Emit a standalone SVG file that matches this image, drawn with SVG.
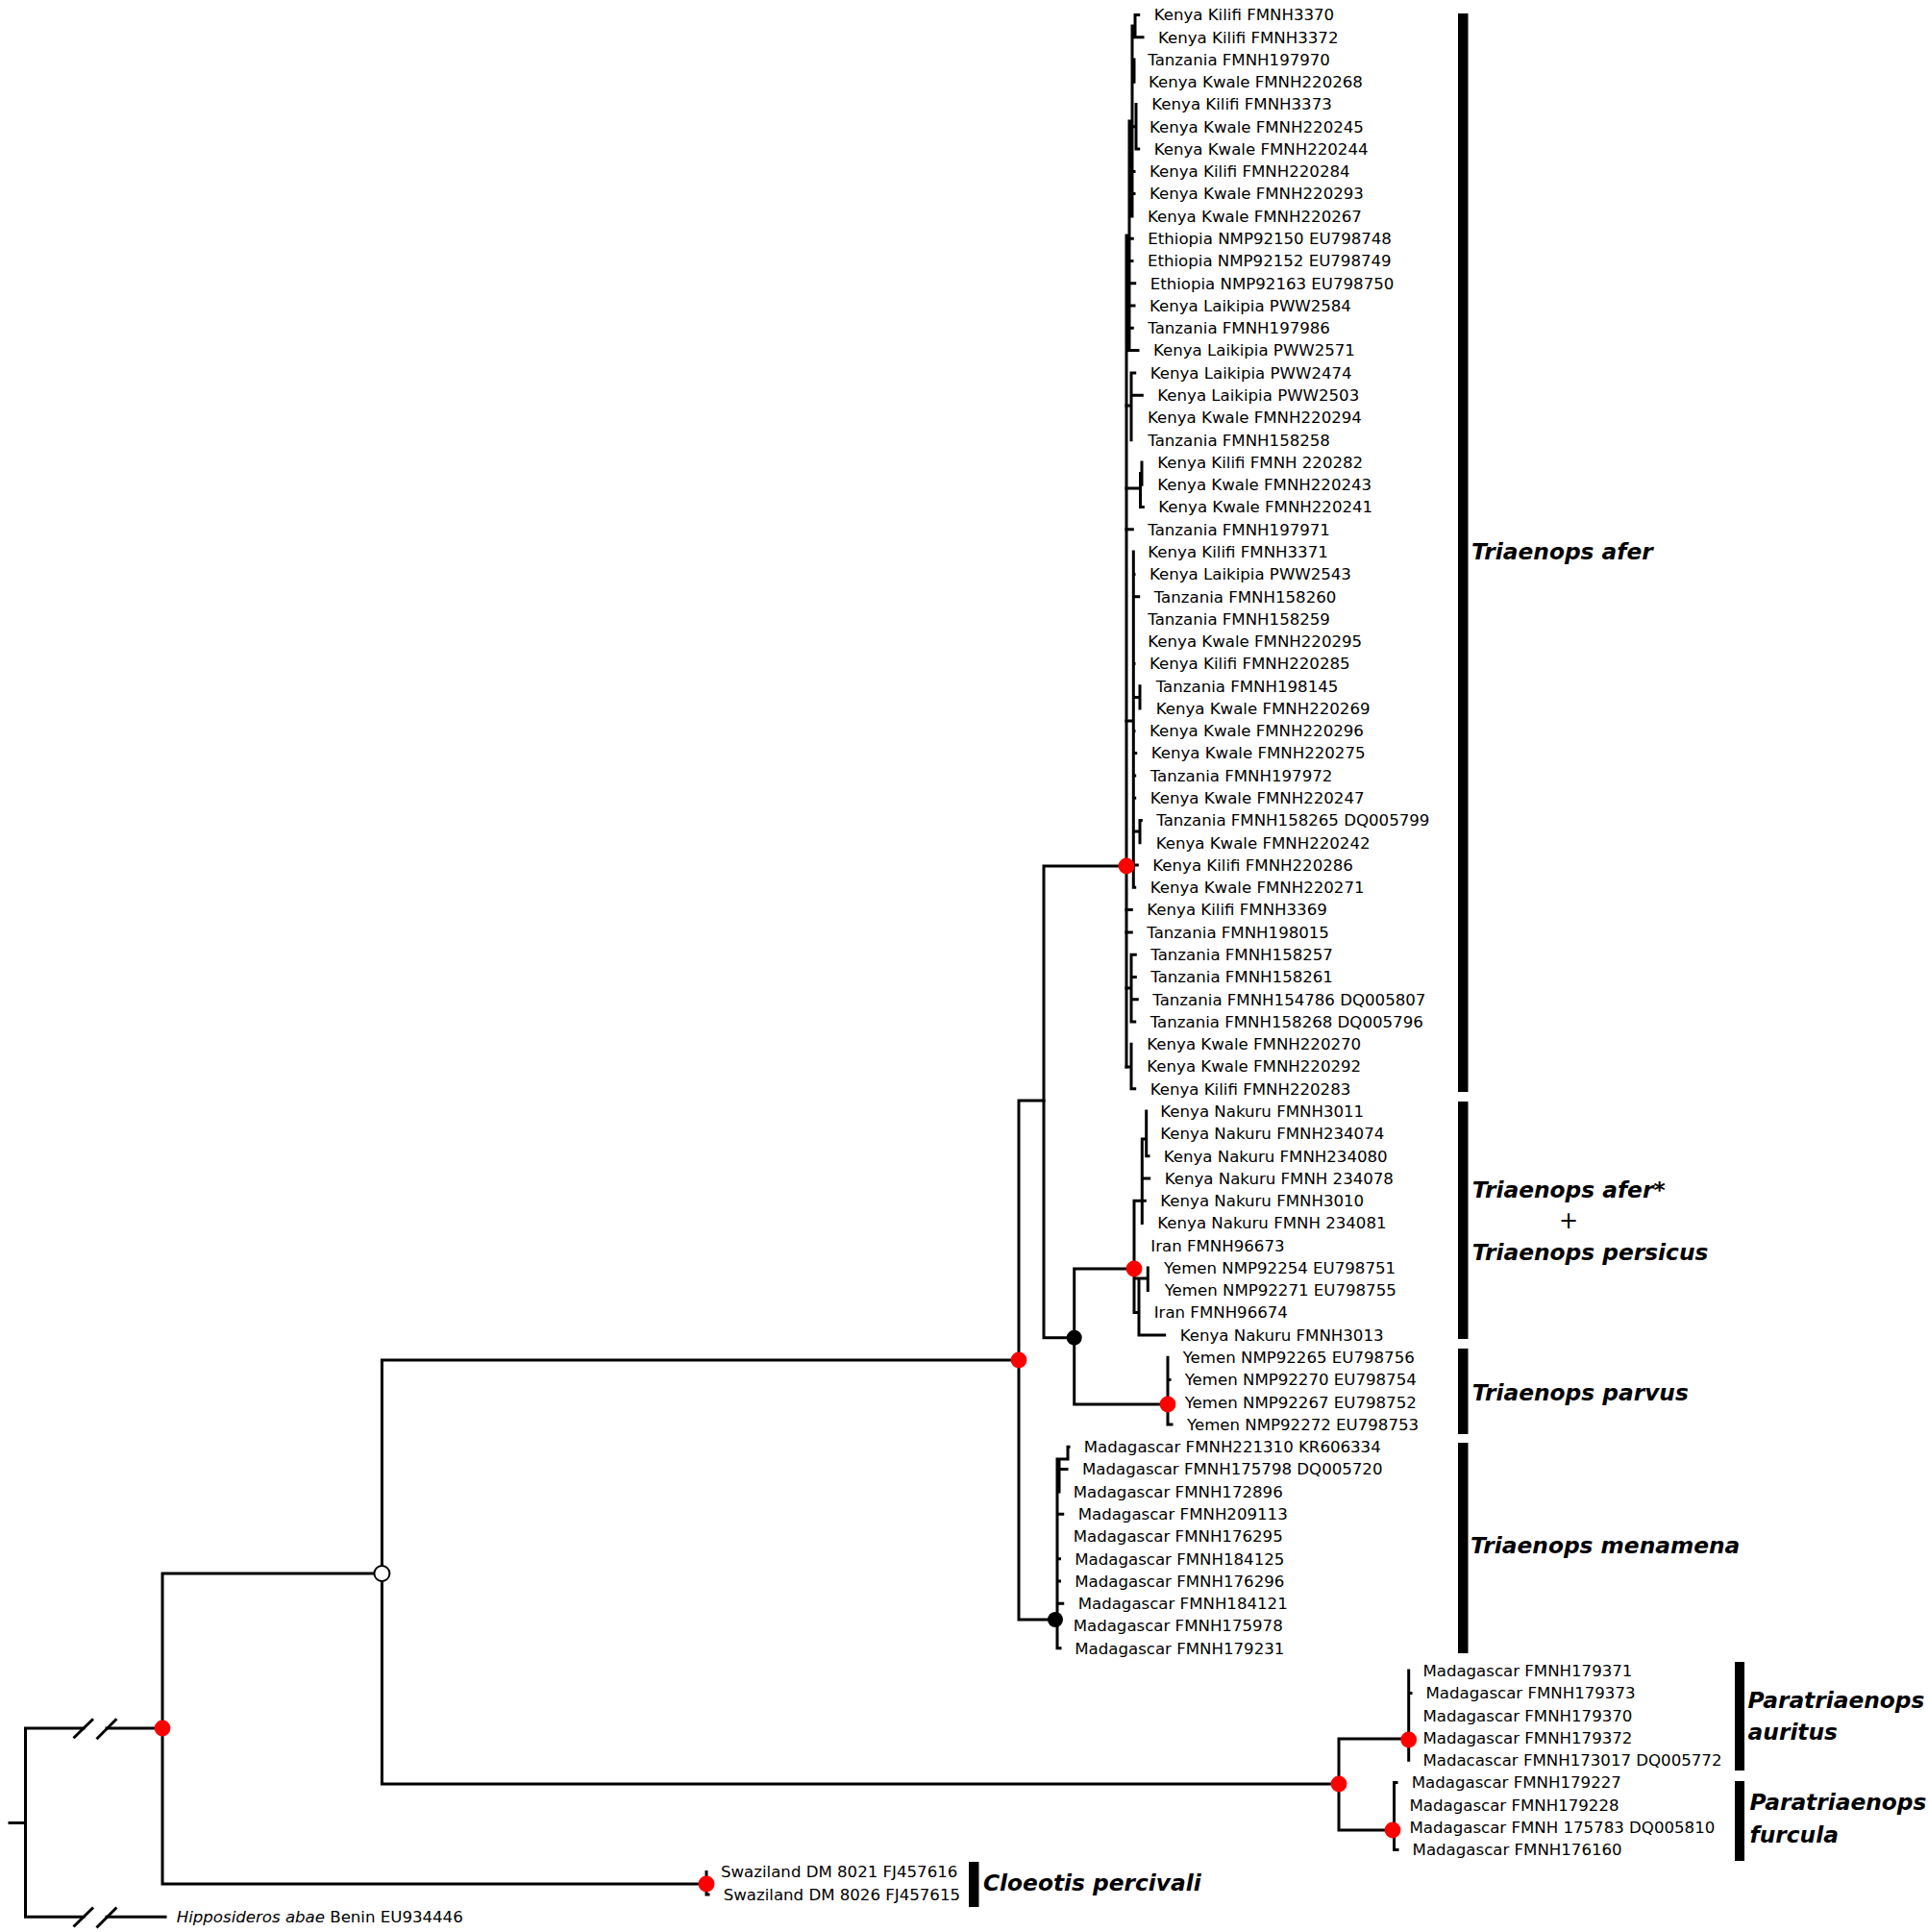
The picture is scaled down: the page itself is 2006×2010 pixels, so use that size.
<svg xmlns="http://www.w3.org/2000/svg" width="2006" height="2010" viewBox="0 0 2006 2010">
<style>
.t{font-family:"DejaVu Sans","Liberation Sans",sans-serif;font-size:16.6px;fill:#000}
.c{font-family:"DejaVu Sans","Liberation Sans",sans-serif;font-size:23.3px;font-weight:bold;font-style:italic;fill:#000}
.p{font-family:"DejaVu Sans","Liberation Sans",sans-serif;font-size:24px;fill:#000}
.br{stroke:#000;stroke-width:3;fill:none;stroke-linecap:square}
.red{fill:#ff0000}
.blk{fill:#000}
.open{fill:#fff;stroke:#000;stroke-width:2}
.bar{fill:#000}
</style>
<rect width="2006" height="2010" fill="#fff"/>
<g id="connectors" class="br">
<path d="M10 1896.5H26.5M26.5 1798V1994.2M26.5 1798H87M111 1798H169M26.5 1994.2H87M111 1994.2H172"/>
<path d="M76.5 1808.3L97 1788.3M100.5 1809.3L121.4 1788.3M76.5 2004.5L97 1984.5M100.5 2005.5L121.4 1984.5" stroke-linecap="butt"/>
<path d="M169 1637V1960M169 1637H397.4M169 1960H735M735 1947.6V1970.9H737"/>
<path d="M397.4 1415V1856M397.4 1415H1060M397.4 1856H1393"/>
<path d="M1060 1145V1685M1060 1145H1086M1060 1685H1100"/>
<path d="M1086 901V1391.7M1086 901H1172M1086 1391.7H1117.7"/>
<path d="M1117.7 1320V1461M1117.7 1320H1180M1117.7 1461H1215"/>
<path d="M1393 1809V1904M1393 1809H1465.7M1393 1904H1450.5"/>
<path d="M1465.7 1738.1V1831.2M1465.7 1761.4H1468M1450.5 1854.5V1924.4M1450.5 1854.5H1453M1450.5 1924.4H1454"/>
<path d="M1100 1518V1714.8M1100 1518H1111M1111 1505.3V1518M1111 1505.3H1112M1102 1518V1551.9M1102 1528.6H1110M1100 1575.2H1105.7M1100 1621.7H1102.5M1100 1645H1102.5M1100 1668.3H1105.7M1100 1714.8H1103"/>
<path d="M1180 1249.2V1365.6H1184.7M1180 1249.2H1191.3M1188.3 1185V1272.5M1188.3 1185H1192.7M1192.7 1156.1V1202.7H1195M1188.3 1226H1195.7M1180 1330H1194.3M1194.3 1319V1342.4M1185 1330V1388.9H1211.7"/>
<path d="M1215 1412.2V1482H1219M1215 1435.5H1217M1215 1458.8H1217"/>
<path d="M1172 245V1110M1172 245H1175M1175 126V364.6M1175 126H1178M1178 27V225M1178 27H1181M1181 15.4V38.7M1181 15.4H1184.7M1181 38.7H1189M1178 73.6H1180M1180 62V85.2M1178 131.8H1182M1182 108.5V155.1H1184.7M1178 178.4H1180M1178 201.6H1180"/>
<path d="M1175 248.2H1178.3M1175 271.5H1178M1175 294.8H1180.7M1175 318H1180M1175 341.3H1178.3M1175 364.6H1184"/>
<path d="M1172 422H1177M1177 387.9V457.7M1177 387.9H1180.7M1177 411.2H1188.3M1172 508H1186.5M1186.5 492.6V527.6H1189.3M1186.5 492.6H1188M1188 481V504.3M1172 550.8H1178.3"/>
<path d="M1172 750H1179.3M1179.3 574.1V923.3H1180.7M1179.3 597.4H1180M1179.3 620.7H1184.7M1179.3 690.5H1180M1179.3 725.4H1186M1186 713.8V737.1M1179.3 760.4H1180M1179.3 783.6H1181.7M1179.3 806.9H1180.7M1179.3 830.2H1180.7M1179.3 865.1H1186M1186 853.5V876.8M1186 853.5H1187.3M1179.3 900H1183.3"/>
<path d="M1172 946.6H1177.3M1172 969.9H1177.3M1172 1028H1177M1177 993.2V1063H1180.7M1177 993.2H1181.3M1177 1016.4H1181.3M1177 1039.7H1183.3M1172 1110H1177M1177 1086.3V1132.8H1180.7"/>
</g>
<g id="internal-nodes">
<g id="n-root"><circle class="red" cx="169" cy="1798" r="8.4"/></g>
<g id="n-triaenopinae"><circle class="open" cx="397.4" cy="1637" r="8"/></g>
<g id="n-triaenops"><circle class="red" cx="1060" cy="1415" r="8.4"/></g>
<g id="n-afer"><circle class="red" cx="1172" cy="901" r="8.4"/></g>
<g id="n-persicus-parvus"><circle class="blk" cx="1117.7" cy="1391.7" r="8"/></g>
<g id="n-persicus"><circle class="red" cx="1180" cy="1320" r="8.4"/></g>
<g id="n-parvus"><circle class="red" cx="1215" cy="1461" r="8.4"/></g>
<g id="n-menamena"><circle class="blk" cx="1098" cy="1685" r="8"/></g>
<g id="n-paratriaenops"><circle class="red" cx="1393" cy="1856" r="8.4"/></g>
<g id="n-auritus"><circle class="red" cx="1465.7" cy="1810" r="8.4"/></g>
<g id="n-furcula"><circle class="red" cx="1449" cy="1904" r="8.4"/></g>
<g id="n-cloeotis"><circle class="red" cx="735" cy="1960" r="8.5"/></g>
</g>
<g id="tips" class="t">
<g id="tip0"><text x="1200.7" y="21.2">Kenya Kilifi FMNH3370</text></g>
<g id="tip1"><text x="1205" y="44.5">Kenya Kilifi FMNH3372</text></g>
<g id="tip2"><text x="1194.3" y="67.8">Tanzania FMNH197970</text></g>
<g id="tip3"><text x="1195" y="91">Kenya Kwale FMNH220268</text></g>
<g id="tip4"><text x="1198.3" y="114.3">Kenya Kilifi FMNH3373</text></g>
<g id="tip5"><text x="1196" y="137.6">Kenya Kwale FMNH220245</text></g>
<g id="tip6"><text x="1200.7" y="160.9">Kenya Kwale FMNH220244</text></g>
<g id="tip7"><text x="1196" y="184.2">Kenya Kilifi FMNH220284</text></g>
<g id="tip8"><text x="1196" y="207.4">Kenya Kwale FMNH220293</text></g>
<g id="tip9"><text x="1194" y="230.7">Kenya Kwale FMNH220267</text></g>
<g id="tip10"><text x="1194.3" y="254">Ethiopia NMP92150 EU798748</text></g>
<g id="tip11"><text x="1194" y="277.3">Ethiopia NMP92152 EU798749</text></g>
<g id="tip12"><text x="1196.7" y="300.6">Ethiopia NMP92163 EU798750</text></g>
<g id="tip13"><text x="1196" y="323.8">Kenya Laikipia PWW2584</text></g>
<g id="tip14"><text x="1194.3" y="347.1">Tanzania FMNH197986</text></g>
<g id="tip15"><text x="1200" y="370.4">Kenya Laikipia PWW2571</text></g>
<g id="tip16"><text x="1196.7" y="393.7">Kenya Laikipia PWW2474</text></g>
<g id="tip17"><text x="1204.3" y="417">Kenya Laikipia PWW2503</text></g>
<g id="tip18"><text x="1194" y="440.2">Kenya Kwale FMNH220294</text></g>
<g id="tip19"><text x="1194.3" y="463.5">Tanzania FMNH158258</text></g>
<g id="tip20"><text x="1204.3" y="486.8">Kenya Kilifi FMNH 220282</text></g>
<g id="tip21"><text x="1204.3" y="510.1">Kenya Kwale FMNH220243</text></g>
<g id="tip22"><text x="1205.3" y="533.4">Kenya Kwale FMNH220241</text></g>
<g id="tip23"><text x="1194.3" y="556.6">Tanzania FMNH197971</text></g>
<g id="tip24"><text x="1194.3" y="579.9">Kenya Kilifi FMNH3371</text></g>
<g id="tip25"><text x="1196" y="603.2">Kenya Laikipia PWW2543</text></g>
<g id="tip26"><text x="1200.7" y="626.5">Tanzania FMNH158260</text></g>
<g id="tip27"><text x="1194.3" y="649.8">Tanzania FMNH158259</text></g>
<g id="tip28"><text x="1194.3" y="673">Kenya Kwale FMNH220295</text></g>
<g id="tip29"><text x="1196" y="696.3">Kenya Kilifi FMNH220285</text></g>
<g id="tip30"><text x="1202.7" y="719.6">Tanzania FMNH198145</text></g>
<g id="tip31"><text x="1202.7" y="742.9">Kenya Kwale FMNH220269</text></g>
<g id="tip32"><text x="1196" y="766.2">Kenya Kwale FMNH220296</text></g>
<g id="tip33"><text x="1197.7" y="789.4">Kenya Kwale FMNH220275</text></g>
<g id="tip34"><text x="1196.7" y="812.7">Tanzania FMNH197972</text></g>
<g id="tip35"><text x="1196.7" y="836">Kenya Kwale FMNH220247</text></g>
<g id="tip36"><text x="1203.3" y="859.3">Tanzania FMNH158265 DQ005799</text></g>
<g id="tip37"><text x="1202.7" y="882.6">Kenya Kwale FMNH220242</text></g>
<g id="tip38"><text x="1199.3" y="905.8">Kenya Kilifi FMNH220286</text></g>
<g id="tip39"><text x="1196.7" y="929.1">Kenya Kwale FMNH220271</text></g>
<g id="tip40"><text x="1193.3" y="952.4">Kenya Kilifi FMNH3369</text></g>
<g id="tip41"><text x="1193.3" y="975.7">Tanzania FMNH198015</text></g>
<g id="tip42"><text x="1197.3" y="999">Tanzania FMNH158257</text></g>
<g id="tip43"><text x="1197.3" y="1022.2">Tanzania FMNH158261</text></g>
<g id="tip44"><text x="1199.3" y="1045.5">Tanzania FMNH154786 DQ005807</text></g>
<g id="tip45"><text x="1196.7" y="1068.8">Tanzania FMNH158268 DQ005796</text></g>
<g id="tip46"><text x="1193.3" y="1092.1">Kenya Kwale FMNH220270</text></g>
<g id="tip47"><text x="1193.3" y="1115.4">Kenya Kwale FMNH220292</text></g>
<g id="tip48"><text x="1196.7" y="1138.6">Kenya Kilifi FMNH220283</text></g>
<g id="tip49"><text x="1207.3" y="1161.9">Kenya Nakuru FMNH3011</text></g>
<g id="tip50"><text x="1207.3" y="1185.2">Kenya Nakuru FMNH234074</text></g>
<g id="tip51"><text x="1210.7" y="1208.5">Kenya Nakuru FMNH234080</text></g>
<g id="tip52"><text x="1211.7" y="1231.8">Kenya Nakuru FMNH 234078</text></g>
<g id="tip53"><text x="1207.3" y="1255">Kenya Nakuru FMNH3010</text></g>
<g id="tip54"><text x="1204.3" y="1278.3">Kenya Nakuru FMNH 234081</text></g>
<g id="tip55"><text x="1197.3" y="1301.6">Iran FMNH96673</text></g>
<g id="tip56"><text x="1211" y="1324.9">Yemen NMP92254 EU798751</text></g>
<g id="tip57"><text x="1211.7" y="1348.2">Yemen NMP92271 EU798755</text></g>
<g id="tip58"><text x="1200.7" y="1371.4">Iran FMNH96674</text></g>
<g id="tip59"><text x="1227.7" y="1394.7">Kenya Nakuru FMNH3013</text></g>
<g id="tip60"><text x="1230.7" y="1418">Yemen NMP92265 EU798756</text></g>
<g id="tip61"><text x="1232.7" y="1441.3">Yemen NMP92270 EU798754</text></g>
<g id="tip62"><text x="1232.7" y="1464.6">Yemen NMP92267 EU798752</text></g>
<g id="tip63"><text x="1235" y="1487.8">Yemen NMP92272 EU798753</text></g>
<g id="tip64"><text x="1127.7" y="1511.1">Madagascar FMNH221310 KR606334</text></g>
<g id="tip65"><text x="1126" y="1534.4">Madagascar FMNH175798 DQ005720</text></g>
<g id="tip66"><text x="1116.7" y="1557.7">Madagascar FMNH172896</text></g>
<g id="tip67"><text x="1121.7" y="1581">Madagascar FMNH209113</text></g>
<g id="tip68"><text x="1116.7" y="1604.2">Madagascar FMNH176295</text></g>
<g id="tip69"><text x="1118.3" y="1627.5">Madagascar FMNH184125</text></g>
<g id="tip70"><text x="1118.3" y="1650.8">Madagascar FMNH176296</text></g>
<g id="tip71"><text x="1121.7" y="1674.1">Madagascar FMNH184121</text></g>
<g id="tip72"><text x="1116.7" y="1697.4">Madagascar FMNH175978</text></g>
<g id="tip73"><text x="1118.3" y="1720.6">Madagascar FMNH179231</text></g>
<g id="tip74"><text x="1480.4" y="1743.9">Madagascar FMNH179371</text></g>
<g id="tip75"><text x="1483.5" y="1767.2">Madagascar FMNH179373</text></g>
<g id="tip76"><text x="1480.4" y="1790.5">Madagascar FMNH179370</text></g>
<g id="tip77"><text x="1480.4" y="1813.8">Madagascar FMNH179372</text></g>
<g id="tip78"><text x="1480.4" y="1837">Madacascar FMNH173017 DQ005772</text></g>
<g id="tip79"><text x="1468.8" y="1860.3">Madagascar FMNH179227</text></g>
<g id="tip80"><text x="1466.5" y="1883.6">Madagascar FMNH179228</text></g>
<g id="tip81"><text x="1466.5" y="1906.9">Madagascar FMNH 175783 DQ005810</text></g>
<g id="tip82"><text x="1469.6" y="1930.2">Madagascar FMNH176160</text></g>
<g id="tip83"><text x="750" y="1953.4">Swaziland DM 8021 FJ457616</text></g>
<g id="tip84"><text x="752.7" y="1976.7">Swaziland DM 8026 FJ457615</text></g>
<g id="tip85"><text x="183.7" y="2000"><tspan font-style="italic">Hipposideros abae</tspan> Benin EU934446</text></g>
</g>
<g id="clades">
<g id="clade-afer"><rect class="bar" x="1517" y="14" width="10.5" height="1122"/><text class="c" x="1531" y="581.5">Triaenops afer</text></g>
<g id="clade-persicus"><rect class="bar" x="1517" y="1146" width="10.5" height="247"/><text class="c" x="1531.7" y="1245.5">Triaenops afer*</text><text class="p" x="1632" y="1278" text-anchor="middle">+</text><text class="c" x="1531.7" y="1310.5">Triaenops persicus</text></g>
<g id="clade-parvus"><rect class="bar" x="1517" y="1403" width="10.5" height="89"/><text class="c" x="1531.7" y="1457">Triaenops parvus</text></g>
<g id="clade-menamena"><rect class="bar" x="1517" y="1501" width="10.5" height="219"/><text class="c" x="1530" y="1616">Triaenops menamena</text></g>
<g id="clade-auritus"><rect class="bar" x="1805" y="1729" width="10" height="113"/><text class="c" x="1818.6" y="1777">Paratriaenops</text><text class="c" x="1818.6" y="1810">auritus</text></g>
<g id="clade-furcula"><rect class="bar" x="1805" y="1853" width="10" height="83"/><text class="c" x="1820.6" y="1883">Paratriaenops</text><text class="c" x="1820.6" y="1916.7">furcula</text></g>
<g id="clade-cloeotis"><rect class="bar" x="1008" y="1937" width="10.5" height="47"/><text class="c" x="1023" y="1967">Cloeotis percivali</text></g>
</g>
</svg>
